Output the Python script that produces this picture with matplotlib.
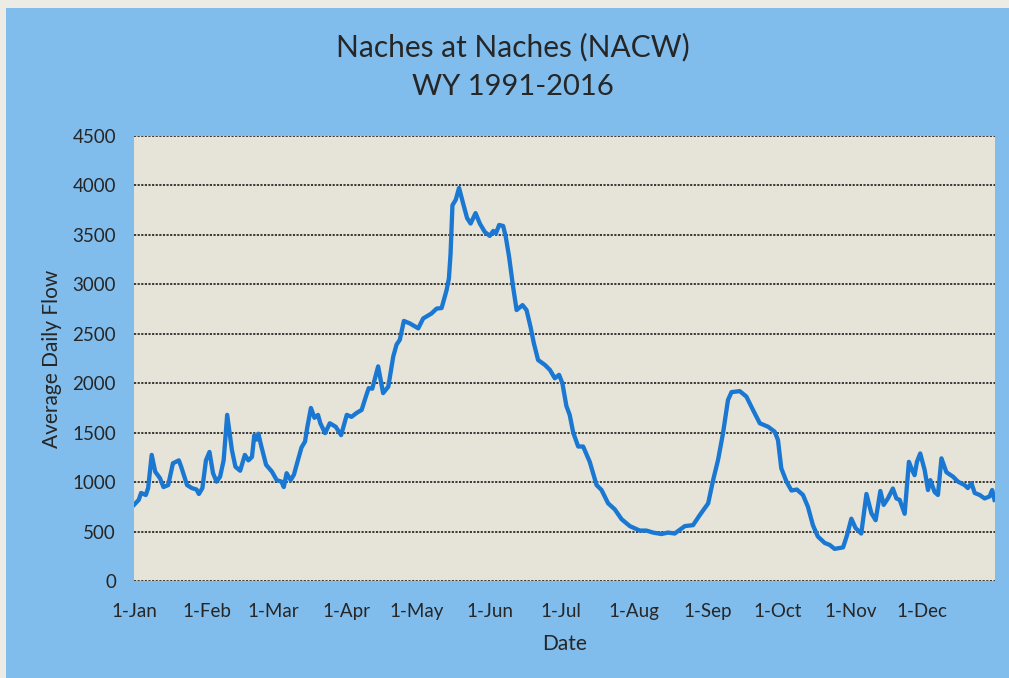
import numpy as np
import matplotlib.pyplot as plt
from matplotlib.patches import Rectangle

# day of year (0 = 1-Jan) and mean daily flow
days = [0, 2, 3, 5, 6, 7.5, 9, 11, 12.5, 14.5, 16.5, 19, 20, 22.5, 24.5, 26.5, 27.5, 29,
        30.5, 32, 33.5, 35, 36.5, 38, 39.5, 41.5, 43, 45, 47, 48.5, 50, 51, 52, 52.7, 54,
        56, 58.5, 60.5, 62.5, 63.5, 64.7, 66.4, 67.8, 69, 71, 72.5, 73.5, 75, 76.5, 78,
        79, 81, 83, 85.5, 87.8, 90.2, 92.2, 94.4, 96.5, 98.3, 99.5, 101, 103.5, 105.6,
        107.8, 109.9, 111.3, 112.7, 114.4, 116.9, 120.5, 122.6, 126.1, 128.3, 130.4,
        132.5, 133.5, 134.2, 135, 136.4, 137.8, 139.5, 141.2, 142.7, 144.8, 146.6, 148.7,
        150.8, 152.3, 153.4, 154.8, 156.5, 157.6, 159, 160.7, 162.2, 164.7, 166.4, 168.1,
        169.5, 171.3, 174.2, 176.3, 178.4, 180.2, 181.6, 183.3, 184.7, 186.2, 188.3,
        190.4, 193.2, 196.1, 198.2, 201, 203.8, 206.7, 210.2, 214.4, 217.2, 220, 223.6,
        226.4, 229.2, 233.5, 237, 239.8, 243.4, 245.5, 247.6, 249.7, 251.8, 253.3, 256.8,
        259.6, 262.4, 265.3, 268.8, 271.6, 273, 274.4, 276.6, 278.7, 281, 283.6, 285.7,
        287.8, 289.9, 292.8, 294.9, 297, 300.6, 302.3, 304.1, 305.9, 308.3, 310.5, 312.6,
        314.4, 316.4, 317.8, 319.6, 321.7, 323.2, 324.6, 326.7, 328.5, 329.9, 330.9,
        331.9, 333.3, 335.2, 336.6, 337.6, 339.4, 340.8, 342.3, 344.4, 347.2, 349.3,
        352.1, 353.5, 355, 356.4, 358.5, 360.6, 362.7, 363.8, 364.8]
flow = [770, 820, 890, 870, 940, 1275, 1105, 1040, 950, 970, 1190, 1220, 1155, 970, 940,
        925, 880, 940, 1220, 1305, 1090, 1005, 1055, 1220, 1680, 1325, 1155, 1115, 1275,
        1220, 1255, 1475, 1430, 1490, 1360, 1175, 1105, 1020, 1005, 950, 1090, 1020, 1075,
        1180, 1350, 1410, 1560, 1750, 1650, 1680, 1595, 1495, 1595, 1560, 1475, 1680,
        1660, 1700, 1730, 1865, 1950, 1945, 2170, 1900, 1965, 2270, 2390, 2440, 2630,
        2605, 2555, 2655, 2705, 2755, 2760, 2940, 3060, 3310, 3800, 3855, 3975, 3820,
        3670, 3615, 3720, 3615, 3530, 3490, 3540, 3515, 3600, 3590, 3480, 3280, 2975,
        2740, 2790, 2740, 2570, 2405, 2235, 2185, 2135, 2050, 2085, 2000, 1770, 1680,
        1500, 1360, 1360, 1205, 970, 920, 785, 725, 625, 555, 510, 510, 490, 475, 490,
        480, 555, 565, 665, 785, 1020, 1225, 1495, 1830, 1910, 1920, 1865, 1730, 1595,
        1560, 1510, 1425, 1140, 1005, 915, 925, 870, 750, 565, 450, 385, 365, 325, 340,
        465, 630, 535, 480, 880, 685, 615, 910, 770, 835, 935, 835, 820, 680, 1205, 1120,
        1070, 1205, 1290, 1120, 920, 1020, 900, 870, 1240, 1100, 1055, 1005, 970, 940,
        990, 890, 870, 835, 855, 920, 820]

month_days = [0, 31, 59, 90, 120, 151, 181, 212, 243, 273, 304, 334]
month_labels = ['1-Jan', '1-Feb', '1-Mar', '1-Apr', '1-May', '1-Jun',
                '1-Jul', '1-Aug', '1-Sep', '1-Oct', '1-Nov', '1-Dec']
yticks = np.arange(0, 4501, 500)

plt.rcParams['font.family'] = ['Lato', 'DejaVu Sans']

fig = plt.figure(figsize=(10.09, 6.78), dpi=100)
fig.patch.set_facecolor('#ECEBE4')
# blue chart area inside a thin pale border
fig.patches.append(Rectangle((6 / 1009, 0), 1, 1 - 8 / 678, transform=fig.transFigure,
                             facecolor='#80BCEC', edgecolor='none', zorder=-10))

ax = fig.add_axes([134 / 1009, 1 - 581 / 678, 861 / 1009, 445 / 678])
ax.set_facecolor('#E6E4D8')
ax.plot(days, flow, color='#1A78D2', lw=3.1, solid_joinstyle='round', zorder=3)

ax.set_xlim(0, 365)
ax.set_ylim(0, 4500)
ax.set_xticks(month_days)
ax.set_xticklabels(month_labels)
ax.set_yticks(yticks)
ax.tick_params(length=0, labelsize=13.5, colors='#262626')
ax.tick_params(axis='y', pad=13)
ax.tick_params(axis='x', pad=16)
for s in ax.spines.values():
    s.set_visible(False)
ax.yaxis.grid(True, color='#2b2b2b', lw=1.3, linestyle=(0, (1.2, 0.8)))
ax.set_axisbelow(True)

ax.set_xlabel('Date', fontsize=15, color='#262626', labelpad=10)
ax.set_ylabel('Average Daily Flow', fontsize=15, color='#262626', labelpad=7)

fig.text(0.508, 1 - 47 / 678, 'Naches at Naches (NACW)', ha='center', va='center',
         fontsize=21.5, color='#262626')
fig.text(0.508, 1 - 87 / 678, 'WY 1991-2016', ha='center', va='center',
         fontsize=21, color='#262626')

fig.savefig('out.png', dpi=100, facecolor=fig.get_facecolor())
